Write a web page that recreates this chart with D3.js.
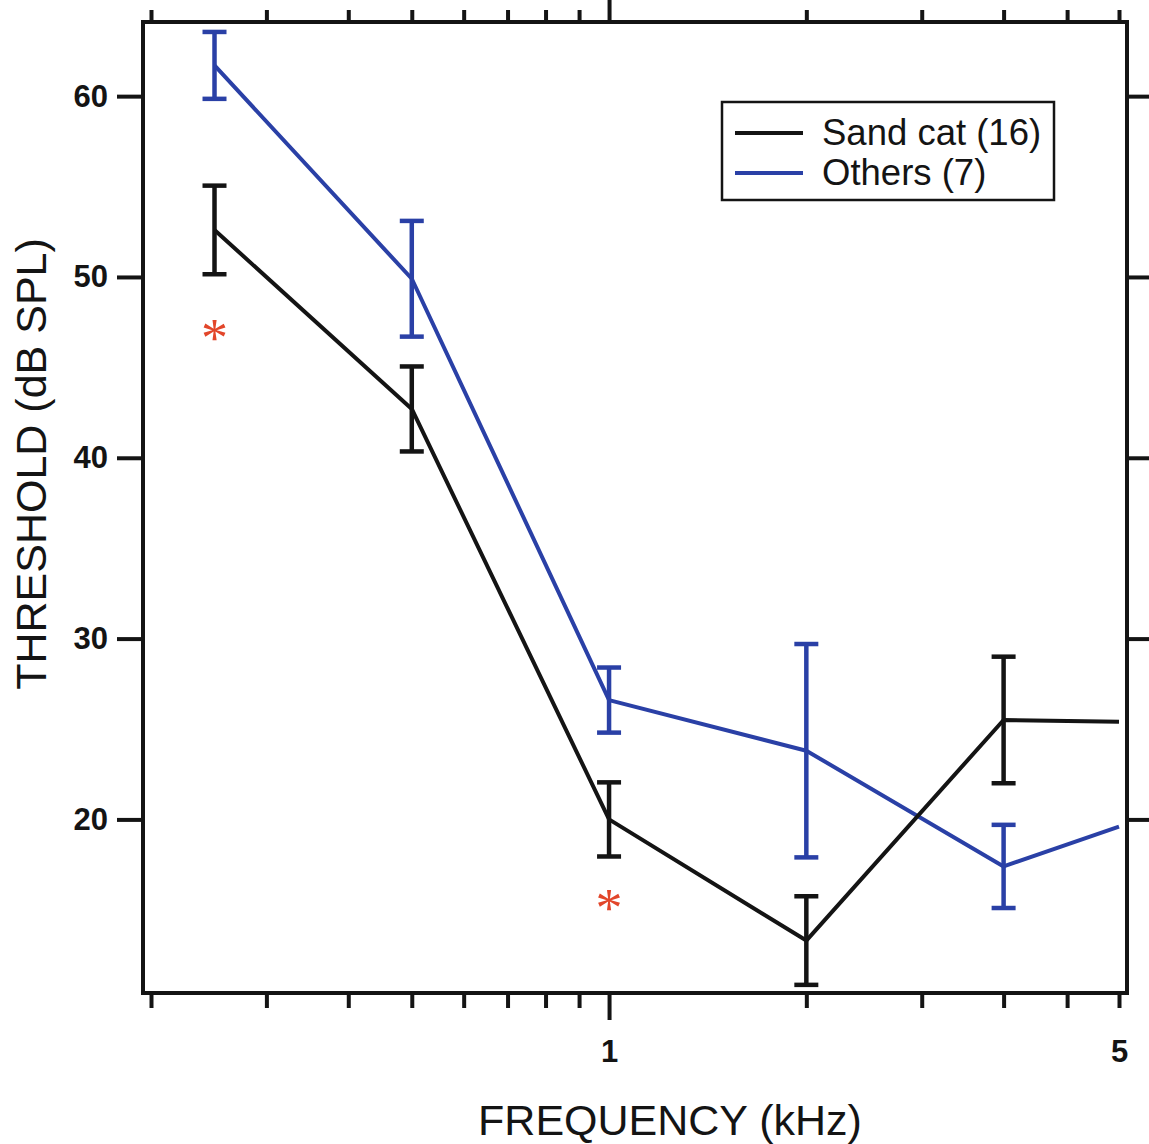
<!DOCTYPE html>
<html>
<head>
<meta charset="utf-8">
<script src="https://cdn.jsdelivr.net/npm/d3@7"></script>
<style>
  body { margin: 0; background: #fff; }
  svg { display: block; }
  text { font-family: "Liberation Sans", Arial, sans-serif; }
</style>
</head>
<body>
<svg id="chart" width="1149" height="1144"></svg>
<script>
const svg = d3.select("#chart");

// data
const freqs = [0.25, 0.5, 1, 2, 4, 6];
const sandCat = [52.6, 42.7, 20.0, 13.3, 25.5, 25.4];
const sandCatErr = [2.45, 2.35, 2.05, 2.45, 3.5, null];
const others = [61.7, 49.9, 26.6, 23.8, 17.4, 19.6];
const othersErr = [1.85, 3.2, 1.8, 5.9, 2.3, null];
const legendLabels = ["Sand cat (16)", "Others (7)"];
const starFreqs = [0.25, 1];
const starValues = [47.1, 15.6];

const xTicks = [0.2, 0.3, 0.4, 0.5, 0.6, 0.7, 0.8, 0.9, 1, 2, 3, 4, 5, 6];
const xTickLabels = new Map([[1, "1"], [6, "5"]]);
const yTicks = [20, 30, 40, 50, 60];

const BLACK = "#141414";
const BLUE = "#2a40a6";
const RED = "#e2462a";

// рамка графика
const fLeft = 143, fRight = 1127, fTop = 22, fBottom = 993;

const x = d3.scaleLog().domain([0.2, 6]).range([151, 1119]);
const y = d3.scaleLinear().domain([10.4, 64.1]).range([fBottom, fTop]);

// axes
function styleAxis(g) {
    g.select(".domain").remove();
    g.selectAll(".tick line").attr("stroke", BLACK).attr("stroke-width", 4);
    g.selectAll(".tick text")
        .attr("fill", BLACK)
        .style("font-size", "31px")
        .style("font-weight", "bold");
}

const xBottom = svg.append("g")
    .attr("transform", `translate(0,${fBottom})`)
    .call(d3.axisBottom(x).tickValues(xTicks).tickSize(15).tickPadding(32)
        .tickFormat(d => xTickLabels.get(d) || ""))
    .call(styleAxis);
xBottom.selectAll(".tick").filter(d => d === 1).select("line").attr("y2", 27);

const xTop = svg.append("g")
    .attr("transform", `translate(0,${fTop})`)
    .call(d3.axisTop(x).tickValues(xTicks).tickSize(12).tickFormat(""))
    .call(styleAxis);
xTop.selectAll(".tick").filter(d => d === 1).select("line").attr("y2", -fTop);

svg.append("g")
    .attr("transform", `translate(${fLeft},0)`)
    .call(d3.axisLeft(y).tickValues(yTicks).tickSize(26).tickPadding(9))
    .call(styleAxis);

svg.append("g")
    .attr("transform", `translate(${fRight},0)`)
    .call(d3.axisRight(y).tickValues(yTicks).tickSize(24).tickFormat(""))
    .call(styleAxis);

svg.append("rect")
    .attr("x", fLeft).attr("y", fTop)
    .attr("width", fRight - fLeft).attr("height", fBottom - fTop)
    .attr("fill", "none")
    .attr("stroke", BLACK)
    .attr("stroke-width", 4);

// series
const line = d3.line().x(d => x(d[0])).y(d => y(d[1]));
const CAP = 12;

function drawSeries(values, errs, color) {
    const pts = freqs.map((f, i) => [f, values[i], errs[i]]);
    svg.append("path")
        .datum(pts)
        .attr("d", line)
        .attr("fill", "none")
        .attr("stroke", color)
        .attr("stroke-width", 4)
        .attr("stroke-linejoin", "round");

    const bars = svg.append("g")
        .attr("stroke", color)
        .attr("stroke-width", 4.5)
        .selectAll("g")
        .data(pts.filter(d => d[2] != null))
        .join("g");

    bars.append("line")
        .attr("x1", d => x(d[0])).attr("x2", d => x(d[0]))
        .attr("y1", d => y(d[1] + d[2])).attr("y2", d => y(d[1] - d[2]));
    bars.append("line")
        .attr("x1", d => x(d[0]) - CAP).attr("x2", d => x(d[0]) + CAP)
        .attr("y1", d => y(d[1] + d[2])).attr("y2", d => y(d[1] + d[2]));
    bars.append("line")
        .attr("x1", d => x(d[0]) - CAP).attr("x2", d => x(d[0]) + CAP)
        .attr("y1", d => y(d[1] - d[2])).attr("y2", d => y(d[1] - d[2]));
}

drawSeries(others, othersErr, BLUE);
drawSeries(sandCat, sandCatErr, BLACK);

// significance stars
svg.selectAll("text.star")
    .data(starFreqs.map((f, i) => [f, starValues[i]]))
    .join("text")
    .attr("class", "star")
    .attr("x", d => x(d[0]))
    .attr("y", d => y(d[1]) + 27)
    .attr("text-anchor", "middle")
    .attr("fill", RED)
    .style("font-family", "'Liberation Serif', 'Times New Roman', serif")
    .style("font-size", "54px")
    .text("*");

// legend
const legend = svg.append("g");
legend.append("rect")
    .attr("x", 722).attr("y", 102)
    .attr("width", 332).attr("height", 98)
    .attr("fill", "#fff")
    .attr("stroke", BLACK)
    .attr("stroke-width", 2.5);

const legendItems = legend.selectAll("g.item")
    .data(legendLabels.map((t, i) => ({ label: t, color: [BLACK, BLUE][i] })))
    .join("g")
    .attr("class", "item")
    .attr("transform", (d, i) => `translate(0,${133 + i * 40})`);

legendItems.append("line")
    .attr("x1", 735).attr("x2", 803)
    .attr("stroke", d => d.color)
    .attr("stroke-width", 4);

legendItems.append("text")
    .attr("x", 822)
    .attr("y", 12)
    .attr("fill", BLACK)
    .style("font-size", "36.5px")
    .text(d => d.label);

// axis titles
svg.append("text")
    .attr("x", 670)
    .attr("y", 1135)
    .attr("text-anchor", "middle")
    .attr("fill", BLACK)
    .style("font-size", "43px")
    .text("FREQUENCY (kHz)");

svg.append("text")
    .attr("transform", "translate(46,464) rotate(-90)")
    .attr("text-anchor", "middle")
    .attr("fill", BLACK)
    .style("font-size", "43px")
    .text("THRESHOLD (dB SPL)");
</script>
</body>
</html>
